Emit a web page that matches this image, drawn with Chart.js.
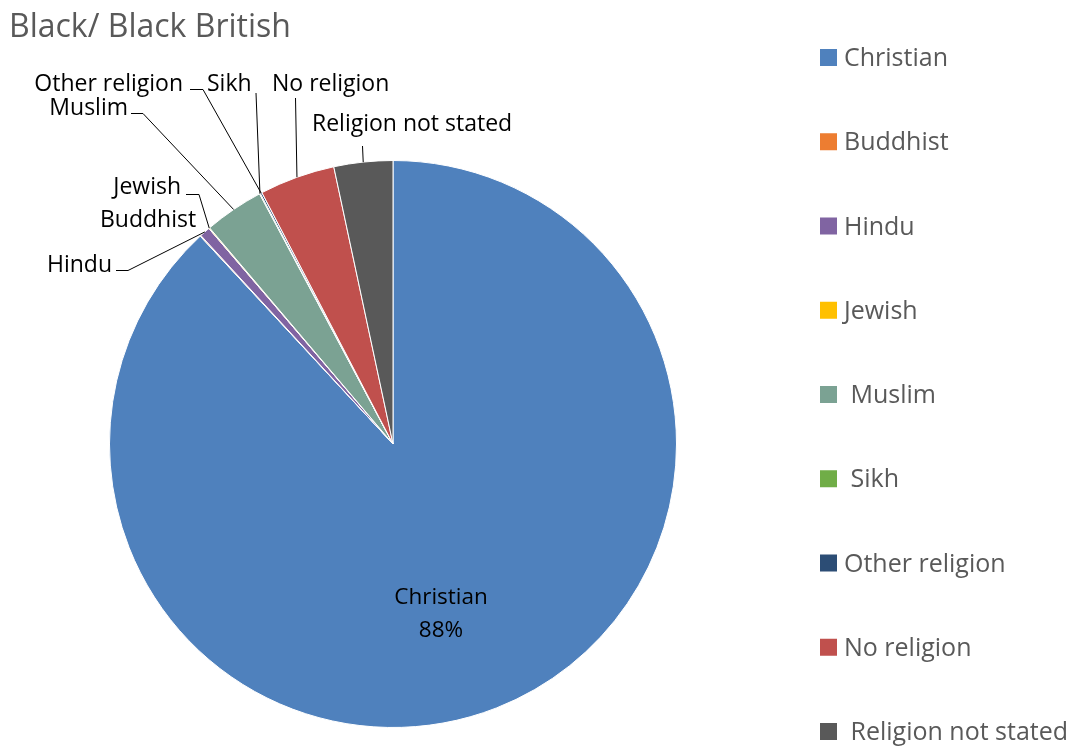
<!DOCTYPE html>
<html>
<head>
<meta charset="utf-8">
<script src="https://cdn.jsdelivr.net/npm/chart.js@4/dist/chart.umd.min.js"></script>
<style>
  html, body { margin:0; padding:0; background:#fff; }
  #wrap { position:relative; width:1078px; height:751px; }
</style>
</head>
<body>
<div id="wrap"><canvas id="chartReligion"></canvas></div>
<script>
const FONT = "'Open Sans', sans-serif";

// Datos
const TITULO = 'Black/ Black British';
const categorias = ['Christian', 'Buddhist', 'Hindu', 'Jewish', ' Muslim', ' Sikh', 'Other religion', 'No religion', ' Religion not stated'];
const porcentajes = [88.1, 0.05, 0.6, 0.05, 3.4, 0.05, 0.1, 4.3, 3.35];
const colores = ['#4F81BD', '#ED7D31', '#8064A2', '#FFC000', '#7BA293', '#70AD47', '#2C4D75', '#C0504D', '#595959'];

// Posición de etiquetas (texto + guía), ancla calculada desde el arco
const etiquetas = [
  { x:441, y:604, align:'center', pct:true },
  { x:100, y:227, align:'left', guia:null },
  { x:112, y:272, align:'right', guia:[[116,270.5],[128,270.5]] },
  { x:181, y:194, align:'right', guia:[[186,194.5],[199,194.5]] },
  { x:128, y:115, align:'right', guia:[[131,113.5],[143,113.5]] },
  { x:207, y:91, align:'left', guia:[[256,93]] },
  { x:183, y:91, align:'right', guia:[[190,89.5],[203,89.5]] },
  { x:272, y:91, align:'left', guia:[[295.5,98]] },
  { x:312, y:131, align:'left', guia:[[362.5,146]] }
];

const etiquetasPlugin = {
  id: 'etiquetas',
  afterDatasetsDraw(chart) {
    const ctx = chart.ctx;
    const arcs = chart.getDatasetMeta(0).data;
    ctx.save();
    ctx.fillStyle = '#000';
    ctx.strokeStyle = '#000';
    ctx.lineWidth = 1;
    arcs.forEach((a, i) => {
      const e = etiquetas[i];
      const txt = categorias[i].trim();
      ctx.textAlign = e.align;
      ctx.textBaseline = 'alphabetic';
      if (e.pct) {
        ctx.font = '22.5px ' + FONT;
        ctx.fillText(txt, e.x, e.y);
        ctx.fillText(Math.round(porcentajes[i]) + '%', e.x, e.y + 33);
        return;
      }
      ctx.font = '23px ' + FONT;
      ctx.fillText(txt, e.x, e.y);
      if (e.guia) {
        const mid = (a.startAngle + a.endAngle) / 2;
        const ax = a.x + Math.cos(mid) * a.outerRadius;
        const ay = a.y + Math.sin(mid) * a.outerRadius;
        ctx.beginPath();
        ctx.moveTo(e.guia[0][0], e.guia[0][1]);
        e.guia.slice(1).forEach(p => ctx.lineTo(p[0], p[1]));
        ctx.lineTo(ax, ay);
        ctx.stroke();
      }
    });
    ctx.restore();
  },
  afterDraw(chart) {
    const ctx = chart.ctx;
    ctx.save();
    // Título
    ctx.font = '32px ' + FONT;
    ctx.fillStyle = '#595959';
    ctx.textAlign = 'left';
    ctx.textBaseline = 'alphabetic';
    ctx.fillText(TITULO, 9, 37);
    // Leyenda
    ctx.font = '25px ' + FONT;
    categorias.forEach((c, i) => {
      const cy = 57.5 + i * 84.25;
      ctx.fillStyle = colores[i];
      ctx.fillRect(820, cy - 8.5, 17, 17);
      ctx.fillStyle = '#595959';
      ctx.fillText(c, 844, cy + 8.5);
    });
    ctx.restore();
  }
};

new Chart(document.getElementById('chartReligion'), {
  type: 'pie',
  data: {
    labels: categorias,
    datasets: [{ data: porcentajes, backgroundColor: colores, borderColor: '#ffffff', borderWidth: 1 }]
  },
  options: {
    responsive: true,
    maintainAspectRatio: false,
    animation: false,
    layout: { padding: { left:109, top:160, right:401, bottom:23 } },
    plugins: { legend: { display:false }, tooltip: { enabled:false }, title: { display:false } },
    events: []
  },
  plugins: [etiquetasPlugin]
});
</script>
</body>
</html>
